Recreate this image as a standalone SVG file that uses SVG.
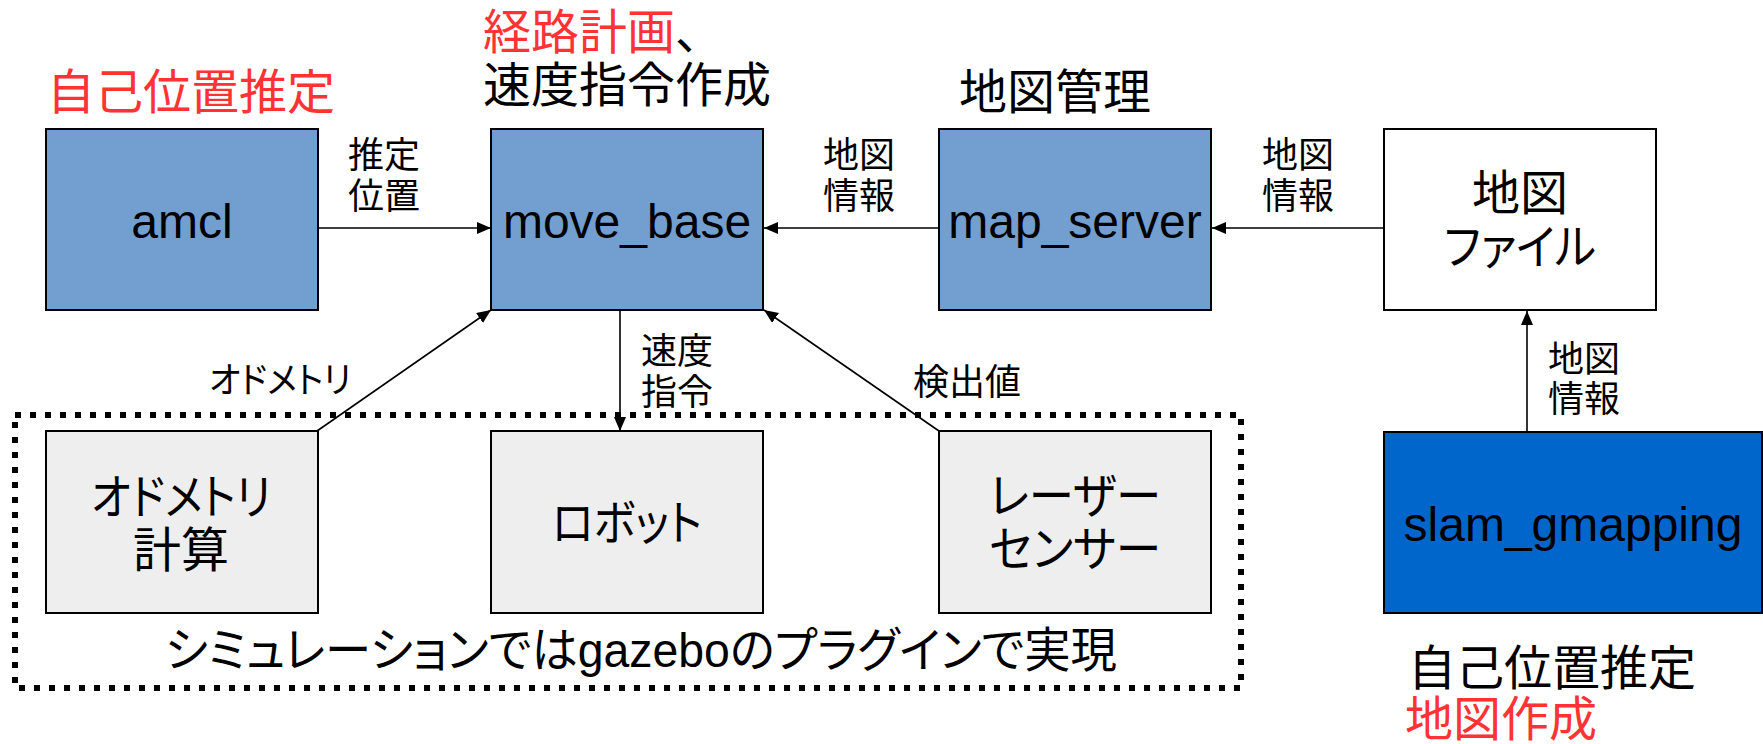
<svg xmlns="http://www.w3.org/2000/svg" width="1763" height="744" viewBox="0 0 1763 744">
<defs>
<style>
text{font-family:"Liberation Sans","Noto Sans CJK JP",sans-serif;fill:#000;}
.big{font-size:48px;}
.lbl{font-size:36px;}
.red{fill:#ff3333;}
.kana{font-feature-settings:"palt";}
.mid{text-anchor:middle;}
.box{stroke:#000;stroke-width:2;}
.ros{fill:#729fcf;}
.sim{fill:#eeeeee;}
.file{fill:#ffffff;}
.slam{fill:#0066cc;}
.conn{stroke:#000;stroke-width:1.6;fill:none;marker-end:url(#arr);}
</style>
<marker id="arr" markerUnits="userSpaceOnUse" markerWidth="15" markerHeight="13" refX="14" refY="6" orient="auto">
<path d="M0,0 L14,6 L0,12 z" fill="#000"/>
</marker>
</defs>
<rect width="1763" height="744" fill="#fff"/>

<rect x="15" y="415" width="1226" height="273" fill="none" stroke="#000" stroke-width="6" stroke-dasharray="6 9"/>
<text class="big kana mid" x="641" y="667" textLength="952" lengthAdjust="spacingAndGlyphs">シミュレーションではgazeboのプラグインで実現</text>

<text class="big red" x="47" y="109">自己位置推定</text>
<text class="big" x="483" y="49"><tspan class="red">経路計画</tspan>、</text>
<text class="big" x="483" y="102">速度指令作成</text>
<text class="big" x="959" y="109">地図管理</text>
<text class="big" x="1408" y="685">自己位置推定</text>
<text class="big red" x="1405" y="736">地図作成</text>

<g id="amcl">
<rect class="box ros" x="46" y="129" width="272" height="181"/>
<text class="big mid" x="182" y="238">amcl</text>
</g>
<g id="move_base">
<rect class="box ros" x="491" y="129" width="272" height="181"/>
<text class="big mid" x="627" y="238">move_base</text>
</g>
<g id="map_server">
<rect class="box ros" x="939" y="129" width="272" height="181"/>
<text class="big mid" x="1075" y="238">map_server</text>
</g>
<g id="map_file">
<rect class="box file" x="1384" y="129" width="272" height="181"/>
<text class="big mid" x="1520" y="210">地図</text>
<text class="big kana mid" x="1520" y="264" textLength="152" lengthAdjust="spacingAndGlyphs">ファイル</text>
</g>
<g id="odometry">
<rect class="box sim" x="46" y="431" width="272" height="182"/>
<text class="big kana mid" x="181" y="514" textLength="180" lengthAdjust="spacingAndGlyphs">オドメトリ</text>
<text class="big mid" x="181" y="567">計算</text>
</g>
<g id="robot">
<rect class="box sim" x="491" y="431" width="272" height="182"/>
<text class="big kana mid" x="627" y="540" textLength="150" lengthAdjust="spacingAndGlyphs">ロボット</text>
</g>
<g id="laser">
<rect class="box sim" x="939" y="431" width="272" height="182"/>
<text class="big kana mid" x="1075" y="513" textLength="172" lengthAdjust="spacingAndGlyphs">レーザー</text>
<text class="big kana mid" x="1075" y="566" textLength="172" lengthAdjust="spacingAndGlyphs">センサー</text>
</g>
<g id="slam_gmapping">
<rect class="box slam" x="1384" y="432" width="378" height="181"/>
<text class="big mid" x="1573" y="541">slam_gmapping</text>
</g>

<g id="connectors">
<path class="conn" d="M318,228 L491,228"/>
<path class="conn" d="M939,228 L764,228"/>
<path class="conn" d="M1384,228 L1212,228"/>
<path class="conn" d="M620,310 L620,431"/>
<path class="conn" d="M317,431 L491,310"/>
<path class="conn" d="M939,431 L764,310"/>
<path class="conn" d="M1527,432 L1527,311"/>
<text class="lbl" x="348" y="168">推定</text>
<text class="lbl" x="348" y="209">位置</text>
<text class="lbl" x="823" y="168">地図</text>
<text class="lbl" x="823" y="209">情報</text>
<text class="lbl" x="1262" y="168">地図</text>
<text class="lbl" x="1262" y="209">情報</text>
<text class="lbl" x="641" y="364">速度</text>
<text class="lbl" x="641" y="405">指令</text>
<text class="lbl kana" x="209" y="393" textLength="142" lengthAdjust="spacingAndGlyphs">オドメトリ</text>
<text class="lbl" x="913" y="395">検出値</text>
<text class="lbl" x="1548" y="372">地図</text>
<text class="lbl" x="1548" y="412">情報</text>
</g>
</svg>
